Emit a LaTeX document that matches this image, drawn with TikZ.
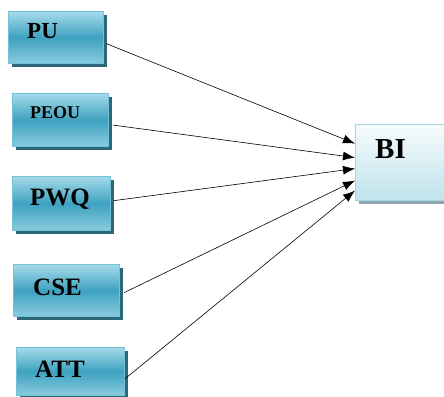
\documentclass[tikz,border=0pt]{standalone}
\usepackage{fontspec}
\setmainfont{Liberation Serif}
\usetikzlibrary{positioning}
\usetikzlibrary{arrows.meta}
\usetikzlibrary{shadows}
\definecolor{tealtop}{HTML}{A4DAE9}
\definecolor{tealmid}{HTML}{3EA2C0}
\definecolor{tealbot}{HTML}{8ACCDF}
\definecolor{tealline}{HTML}{74C2D8}
\definecolor{tealshadow}{HTML}{2C6878}
\definecolor{bitop}{HTML}{F6FBFC}
\definecolor{bibot}{HTML}{BFE3EC}
\definecolor{biline}{HTML}{A6D6E4}
\definecolor{bishadow}{HTML}{8FA6AE}
\tikzset{factor/.style={draw=tealline, line width=1.2pt,
      top color=tealtop, bottom color=tealbot, middle color=tealmid,
      general shadow={fill=tealshadow, shadow xshift=3pt, shadow yshift=-3pt},
      anchor=north west, inner sep=0pt},
      outcome/.style={draw=biline, line width=1.2pt,
      top color=bitop, bottom color=bibot,
      general shadow={fill=bishadow, shadow xshift=3pt, shadow yshift=-3pt},
      anchor=north west, inner sep=0pt},
      lbl/.style={font=\bfseries\fontsize{25}{28}\selectfont,
      anchor=base west, inner sep=0pt},
      every edge/.style={draw,
      -{Latex[length=12pt,width=9pt]},
semithick}}

\begin{document}
\begin{tikzpicture}[x=1pt, y=-1pt]
          \useasboundingbox (0,0) rectangle (444,396);
          \clip (0,0) rectangle (444,396);

          \node[factor, minimum width=95pt, minimum height=52pt] (pu) at (8,11) {};
          \node[factor, minimum width=96pt, minimum height=53pt] (peou) at (12,93) {};
          \node[factor, minimum width=98pt, minimum height=54pt] (pwq) at (12,176) {};
          \node[factor, minimum width=106pt, minimum height=52pt] (cse) at (13,264) {};
          \node[factor, minimum width=108pt, minimum height=48pt] (att) at (16,347) {};
          \node[outcome, minimum width=110pt, minimum height=76pt] (bi) at (355,124) {};

          \node[lbl, font=\bfseries\fontsize{23}{26}\selectfont] (pu-t) at (27,38) {PU};
          \node[lbl, font=\bfseries\fontsize{18}{22}\selectfont] (peou-t) at (30,118) {PEOU};
          \node[lbl] (pwq-t) at (30,205) {PWQ};
          \node[lbl] (cse-t) at (33,295) {CSE};
          \node[lbl] (att-t) at (35,377) {ATT};
          \node[lbl, font=\bfseries\fontsize{29}{32}\selectfont] (bi-t) at (375,158) {BI};

          \draw ([xshift=2pt,yshift=-6pt]pu.east) edge ([yshift=19pt]bi.west);
          \draw ([xshift=4pt,yshift=-5pt]peou.east) edge ([yshift=5pt]bi.west);
          \draw ([xshift=3pt,yshift=3pt]pwq.east) edge ([yshift=-6pt]bi.west);
          \draw ([xshift=4pt,yshift=-2pt]cse.east) edge ([yshift=-18pt]bi.west);
          \draw ([xshift=0pt,yshift=-7pt]att.east) edge ([yshift=-28pt]bi.west);
       \end{tikzpicture}
\end{document}
